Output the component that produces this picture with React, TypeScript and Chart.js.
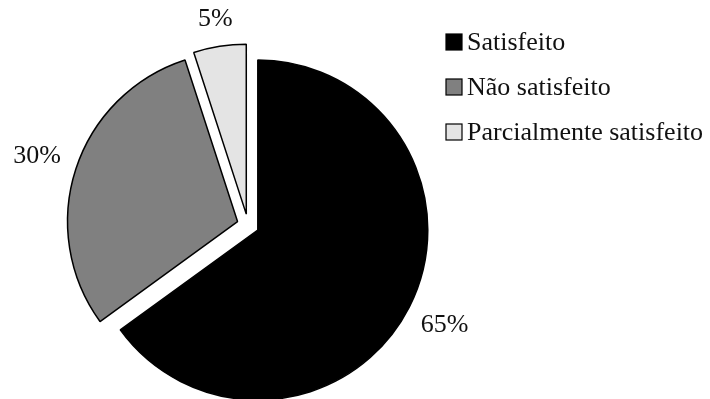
import React, { useEffect, useRef } from "react";
import { Chart, registerables } from "chart.js";

Chart.register(...registerables);

const categories = ["Satisfeito", "Não satisfeito", "Parcialmente satisfeito"];
const values = [65, 30, 5];
const valueLabels = ["65%", "30%", "5%"];
const colors = ["#000000", "#808080", "#e4e4e4"];

const FONT = "26px 'Liberation Serif', 'Times New Roman', serif";
const EXPLODE = 11;

// Explodes every slice by the same distance, keeping the radius unchanged.
const explodePlugin = {
  id: "explode",
  afterUpdate(chart: any) {
    const meta = chart.getDatasetMeta(0);
    meta.data.forEach((arc: any) => {
      if (arc.__exploded) return;
      const orig = arc.draw;
      arc.draw = function (ctx: CanvasRenderingContext2D, area: any) {
        const mid = (this.startAngle + this.endAngle) / 2;
        ctx.save();
        ctx.translate(Math.cos(mid) * EXPLODE, Math.sin(mid) * EXPLODE);
        orig.call(this, ctx, area);
        ctx.restore();
      };
      arc.__exploded = true;
    });
  },
};

const overlayPlugin = {
  id: "overlay",
  afterDraw(chart: any) {
    const ctx = chart.ctx;
    const meta = chart.getDatasetMeta(0);
    ctx.save();
    ctx.font = FONT;
    ctx.fillStyle = "#111";
    ctx.textBaseline = "middle";
    ctx.textAlign = "center";
    meta.data.forEach((arc: any, i: number) => {
      const p = arc.getProps(["x", "y", "startAngle", "endAngle", "outerRadius"], true);
      const mid = (p.startAngle + p.endAngle) / 2;
      const dx = Math.cos(mid);
      const dy = Math.sin(mid);
      const cx = p.x + dx * EXPLODE;
      const cy = p.y + dy * EXPLODE;
      const text = valueLabels[i];
      const w = ctx.measureText(text).width;
      const h = 19;
      const ext = Math.sqrt((dx * w / 2) ** 2 + (dy * h / 2) ** 2);
      const d = p.outerRadius + 18 + ext;
      ctx.fillText(text, cx + dx * d, cy + dy * d);
    });
    // legend
    const lx = 446;
    const ly0 = 42;
    const step = 45;
    const box = 16;
    ctx.textAlign = "left";
    categories.forEach((c, i) => {
      const y = ly0 + i * step;
      ctx.fillStyle = colors[i];
      ctx.fillRect(lx, y - box / 2, box, box);
      ctx.strokeStyle = "#000";
      ctx.lineWidth = 1.2;
      ctx.strokeRect(lx, y - box / 2, box, box);
      ctx.fillStyle = "#111";
      ctx.fillText(c, lx + 21, y + 1);
    });
    ctx.restore();
  },
};

export default function App() {
  const ref = useRef<HTMLCanvasElement | null>(null);
  useEffect(() => {
    if (!ref.current) return;
    const chart = new Chart(ref.current, {
      type: "pie",
      data: {
        labels: categories,
        datasets: [
          {
            data: values,
            backgroundColor: colors,
            borderColor: "#000",
            borderWidth: 1.5,
            radius: 170,
          } as any,
        ],
      },
      options: {
        responsive: false,
        animation: false,
        layout: { padding: { left: 0, right: 214, top: 51, bottom: 0 } },
        plugins: {
          legend: { display: false },
          tooltip: { enabled: false },
        },
      },
      plugins: [explodePlugin, overlayPlugin],
    });
    return () => chart.destroy();
  }, []);
  return (
    <div style={{ position: "absolute", left: 0, top: 0, width: 710, height: 399, background: "#fff" }}>
      <canvas ref={ref} width={710} height={399} style={{ width: 710, height: 399 }} />
    </div>
  );
}
